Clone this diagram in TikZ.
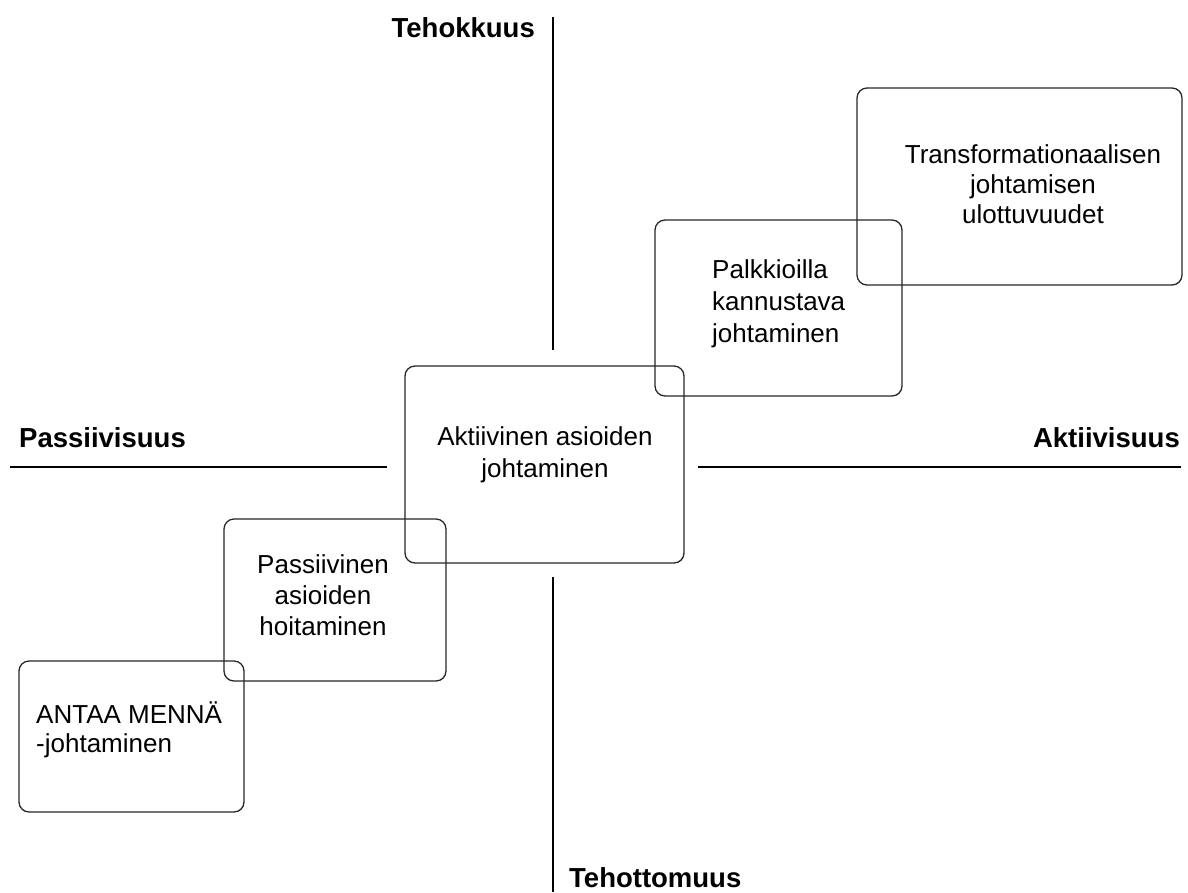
\documentclass[tikz,border=0pt]{standalone}
\usepackage{fontspec}
\setmainfont{Liberation Sans}
\begin{document}
\begin{tikzpicture}[x=1pt,y=-1pt,
  box/.style={draw=black!85, line width=1.3pt, rounded corners=10pt, inner sep=0pt},
  boxtext/.style={inner sep=0pt, font=\fontsize{26}{31}\selectfont},
  axislabel/.style={inner sep=0pt, font=\fontsize{27.5}{31}\selectfont\bfseries},
  axis/.style={draw=black, line width=1.4pt}]
\useasboundingbox (0,0) rectangle (1188,892);

% axis end points
\coordinate (vtopA) at (553,17);
\coordinate (vtopB) at (553,350);
\coordinate (vbotA) at (553,577);
\coordinate (vbotB) at (553,892);
\coordinate (hlefA) at (10,467);
\coordinate (hlefB) at (387,467);
\coordinate (hrigA) at (698,467);
\coordinate (hrigB) at (1181,467);
\draw[axis] (vtopA) -- (vtopB);
\draw[axis] (vbotA) -- (vbotB);
\draw[axis] (hlefA) -- (hlefB);
\draw[axis] (hrigA) -- (hrigB);

% axis labels
\node[axislabel, anchor=base east] (teho) at (535,37) {Tehokkuus};
\node[axislabel, anchor=base west] (tehot) at (569,887) {Tehottomuus};
\node[axislabel, anchor=base west] (pass) at (19,447) {Passiivisuus};
\node[axislabel, anchor=base east] (akt) at (1180,447) {Aktiivisuus};

% leadership style boxes
\node[box, minimum width=225pt, minimum height=151pt] (antaa) at (131.5,736.5) {};
\node[box, minimum width=222pt, minimum height=162pt] (passiiv) at (335,600) {};
\node[box, minimum width=279pt, minimum height=197pt] (aktiiv) at (544.5,464.5) {};
\node[box, minimum width=247pt, minimum height=176pt] (palkk) at (778.5,308) {};
\node[box, minimum width=325pt, minimum height=197pt] (transf) at (1019.5,186.5) {};

% box texts (anchored at the baseline of the last line)
\node[boxtext, anchor=base west, align=left, font=\fontsize{26}{29}\selectfont] (antaaT) at (36,752)
  {ANTAA MENNÄ\\-johtaminen};
\node[boxtext, anchor=base, align=center] (passiivT) at (323,635)
  {Passiivinen\\asioiden\\hoitaminen};
\node[boxtext, anchor=base, align=center, font=\fontsize{26}{32}\selectfont] (aktiivT) at (545,477)
  {Aktiivinen asioiden\\johtaminen\hspace{36pt}};
\node[boxtext, anchor=base west, align=left, font=\fontsize{26}{32}\selectfont] (palkkT) at (712,342)
  {Palkkioilla\\kannustava\\johtaminen};
\node[boxtext, anchor=base, align=center, font=\fontsize{26}{30}\selectfont] (transfT) at (1033,223)
  {Transformationaalisen\\johtamisen\\ulottuvuudet};
\end{tikzpicture}
\end{document}
